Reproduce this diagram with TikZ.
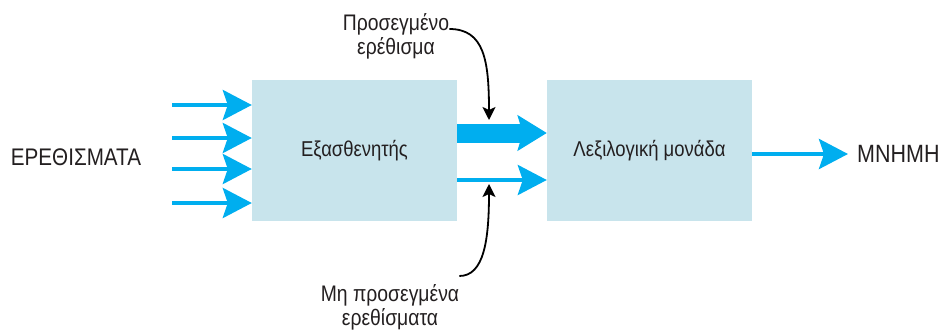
\documentclass[tikz,border=0pt]{standalone}
\usepackage{fontspec}
\setmainfont{Liberation Sans}[FakeStretch=0.86]
\usetikzlibrary{arrows.meta}
\definecolor{boxfill}{RGB}{200,228,236}
\definecolor{arrblue}{RGB}{0,174,239}
\definecolor{txt}{RGB}{35,31,32}
\begin{document}
\begin{tikzpicture}[x=1pt,y=-1pt,
  box/.style={fill=boxfill,draw=none,minimum width=205pt,minimum height=141pt,inner sep=0pt,
    font=\fontsize{21.5}{24}\selectfont,text=txt},
  lbl/.style={font=\fontsize{22.5}{24}\selectfont,text=txt,align=center,inner sep=0pt},
  caplbl/.style={font=\fontsize{24}{26}\selectfont,text=txt,inner sep=0pt},
  bluearrow/.style={draw=arrblue,line width=4pt,-{Stealth[length=29pt,width=30pt,inset=5pt,fill=arrblue]}},
  fatarrow/.style={draw=arrblue,line width=19pt,-{Stealth[length=29pt,width=35pt,inset=5pt,fill=arrblue]}},
  blackarrow/.style={draw=black,line width=1.8pt,-{Stealth[length=13pt,width=13pt,inset=3pt]}}]
\useasboundingbox (0,0) rectangle (945,332);
\node[box] (b1) at (354.5,150.5) {Εξασθενητής};
\node[box] (b2) at (649.5,150.5) {Λεξιλογική μονάδα};
\node[caplbl,anchor=center] (in) at (76,157) {ΕΡΕΘΙΣΜΑΤΑ};
\node[caplbl,anchor=west,font=\fontsize{25}{26}\selectfont] (mem) at (857,154) {ΜΝΗΜΗ};
\node[lbl] (att) at (396,36) {Προσεγμένο\\ερέθισμα};
\node[lbl] (unatt) at (390,307) {Μη προσεγμένα\\ερεθίσματα};
\foreach \y/\n in {105/1,138/2,169/3,203/4}{
  \coordinate (s\n) at (172,\y);
  \draw[bluearrow] (s\n) -- (b1.west |- s\n);
}
\coordinate (fa) at (0,133);
\coordinate (ta) at (0,180);
\draw[fatarrow] (b1.east |- fa) -- (b2.west |- fa);
\draw[bluearrow] (b1.east |- ta) -- (b2.west |- ta);
\draw[bluearrow,shorten >=9pt] (b2.east |- mem) -- (mem.west);
\coordinate (tt) at (489,120);
\coordinate (bt) at (489,184);
\draw[blackarrow] (att.east |- 0,29) .. controls (484,29) and (489,60) .. (tt);
\draw[blackarrow] (unatt.east |- 0,276) .. controls (484,276) and (489,240) .. (bt);
\end{tikzpicture}
\end{document}
